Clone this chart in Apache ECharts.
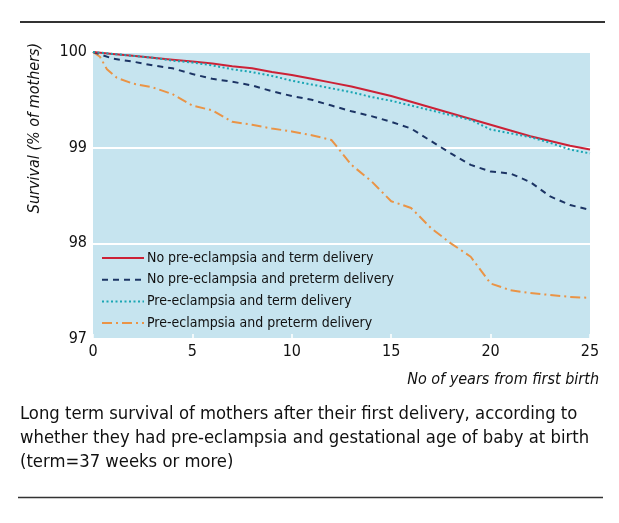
<!DOCTYPE html>
<html>
<head>
<meta charset="utf-8">
<script src="https://cdn.jsdelivr.net/npm/echarts@6/dist/echarts.min.js"></script>
<style>
html,body{margin:0;padding:0;background:#fff;}
#chart{width:619px;height:523px;}
</style>
</head>
<body>
<div id="chart"></div>
<script>
// ---- data ----
const years = [0,1,2,3,4,5,6,7,8,9,10,11,12,13,14,15,16,17,18,19,20,21,22,23,24,25];
const noPETerm = [100,99.98,99.96,99.94,99.92,99.90,99.88,99.85,99.83,99.79,99.76,99.72,99.68,99.64,99.59,99.54,99.48,99.42,99.36,99.30,99.24,99.18,99.12,99.07,99.02,98.98];
const noPEPreterm = [100,99.93,99.90,99.86,99.83,99.77,99.72,99.69,99.65,99.59,99.54,99.50,99.44,99.38,99.33,99.27,99.20,99.07,98.94,98.82,98.75,98.73,98.64,98.49,98.40,98.35];
const peTerm = [100,99.98,99.96,99.94,99.91,99.89,99.86,99.82,99.79,99.75,99.70,99.66,99.62,99.58,99.53,99.49,99.44,99.39,99.34,99.29,99.19,99.15,99.11,99.05,98.98,98.94];
const pePretermYears = [0,0.35,0.7,1.2,2,3,4,5,6,7,8,9,10,11,12,13,14,15,16,17,18,19,20,21,22,23,24,25];
const pePreterm = [100,99.95,99.82,99.73,99.67,99.63,99.56,99.44,99.39,99.27,99.24,99.20,99.17,99.13,99.08,98.82,98.65,98.44,98.37,98.16,98.00,97.86,97.58,97.51,97.48,97.46,97.44,97.43];
const seriesNames = ['No pre-eclampsia and term delivery','No pre-eclampsia and preterm delivery','Pre-eclampsia and term delivery','Pre-eclampsia and preterm delivery'];
const xTicks = [0,5,10,15,20,25];
const yTicks = [97,98,99,100];
const yAxisTitle = 'Survival (% of mothers)';
const xAxisTitle = 'No of years from first birth';
const captionLines = ['Long term survival of mothers after their first delivery, according to','whether they had pre-eclampsia and gestational age of baby at birth','(term=37 weeks or more)'];

const FONT = '"Liberation Sans Narrow","DejaVu Sans Condensed","Liberation Sans",sans-serif';
const pair = (xs, ys) => xs.map((x, i) => [x, ys[i]]);

const chart = echarts.init(document.getElementById('chart'), null, {renderer: 'canvas'});
chart.setOption({
  animation: false,
  backgroundColor: '#ffffff',
  grid: {left: 93, right: 29, top: 52, bottom: 184, show: true, backgroundColor: '#c6e4ef', borderWidth: 0},
  xAxis: {
    type: 'value', min: xTicks[0], max: xTicks[xTicks.length-1], interval: 5,
    axisLine: {show: false},
    axisTick: {show: true, inside: true, length: 5, lineStyle: {color: '#ffffff', width: 1.5}},
    splitLine: {show: false},
    axisLabel: {color: '#111', fontSize: 16, fontFamily: FONT, margin: 5}
  },
  yAxis: {
    type: 'value', min: yTicks[0], max: yTicks[yTicks.length-1], interval: 1,
    axisLine: {show: false},
    axisTick: {show: false},
    splitLine: {show: true, lineStyle: {color: '#ffffff', width: 2}},
    axisLabel: {color: '#111', fontSize: 16, fontFamily: FONT, margin: 6}
  },
  legend: {
    orient: 'vertical', left: 96, top: 246,
    itemWidth: 42, itemHeight: 14, itemGap: 7.7,
    itemStyle: {opacity: 0},
    textStyle: {color: '#111', fontSize: 14, fontFamily: FONT, padding: [0,0,0,-2]},
    data: seriesNames
  },
  series: [
    {name: seriesNames[0], type: 'line', symbol: 'none', data: pair(years, noPETerm), lineStyle: {color: '#cc2136', width: 2}, itemStyle: {color: '#cc2136'}, z: 4},
    {name: seriesNames[1], type: 'line', symbol: 'none', data: pair(years, noPEPreterm), lineStyle: {color: '#1c3464', width: 2, type: [6,5]}, itemStyle: {color: '#1c3464'}, z: 3},
    {name: seriesNames[2], type: 'line', symbol: 'none', data: pair(years, peTerm), lineStyle: {color: '#1aa6b4', width: 2, type: [2,2.5]}, itemStyle: {color: '#1aa6b4'}, z: 5},
    {name: seriesNames[3], type: 'line', symbol: 'none', data: pair(pePretermYears, pePreterm), lineStyle: {color: '#ea9446', width: 2, type: [10,4,2,4]}, itemStyle: {color: '#ea9446'}, z: 2}
  ],
  graphic: [
    {type: 'line', shape: {x1: 20, y1: 22, x2: 605, y2: 22}, style: {stroke: '#333', lineWidth: 2}},
    {type: 'line', shape: {x1: 18, y1: 497.5, x2: 603, y2: 497.5}, style: {stroke: '#333', lineWidth: 1.5}},
    {type: 'text', x: 35, y: 128, rotation: Math.PI/2, style: {text: yAxisTitle, fill: '#111', font: 'italic 16px ' + FONT, textAlign: 'center', textVerticalAlign: 'middle'}},
    {type: 'text', x: 599, y: 380, style: {text: xAxisTitle, fill: '#111', font: 'italic 16px ' + FONT, textAlign: 'right', textVerticalAlign: 'middle'}},
    {type: 'text', x: 20, y: 414, style: {text: captionLines[0], fill: '#111', font: '18.3px ' + FONT, textAlign: 'left', textVerticalAlign: 'middle'}},
    {type: 'text', x: 20, y: 438, style: {text: captionLines[1], fill: '#111', font: '18.3px ' + FONT, textAlign: 'left', textVerticalAlign: 'middle'}},
    {type: 'text', x: 20, y: 462, style: {text: captionLines[2], fill: '#111', font: '18.3px ' + FONT, textAlign: 'left', textVerticalAlign: 'middle'}}
  ]
});
</script>
</body>
</html>
